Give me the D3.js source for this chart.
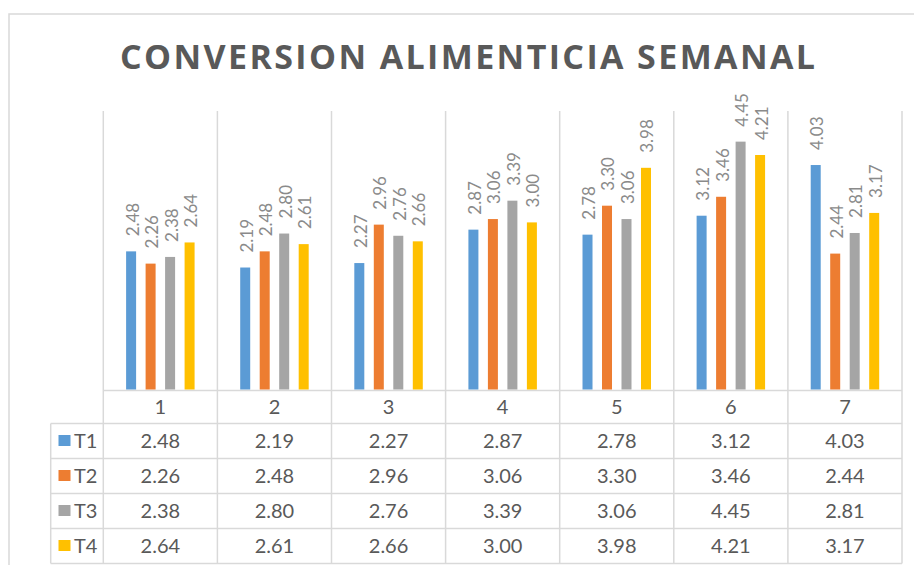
<!DOCTYPE html>
<html><head><meta charset="utf-8">
<script src="https://cdn.jsdelivr.net/npm/d3@7"></script>
<style>html,body{margin:0;padding:0;background:#fff;overflow:hidden}</style>
</head><body>
<script>
const categories = ["1","2","3","4","5","6","7"];
const seriesNames = ["T1","T2","T3","T4"];
const T1 = [2.48,2.19,2.27,2.87,2.78,3.12,4.03];
const T2 = [2.26,2.48,2.96,3.06,3.30,3.46,2.44];
const T3 = [2.38,2.80,2.76,3.39,3.06,4.45,2.81];
const T4 = [2.64,2.61,2.66,3.00,3.98,4.21,3.17];
const colors = ["#5b9bd5","#ed7d31","#a5a5a5","#ffc000"];
const title = "CONVERSION ALIMENTICIA SEMANAL";
const yMax = 5;

const series = [T1,T2,T3,T4].map((v,i)=>({name:seriesNames[i], values:v, color:colors[i]}));

const W=914,H=565;
const svg=d3.select("body").append("svg").attr("width",W).attr("height",H);
const grid="#d9d9d9";

// frame
svg.append("rect").attr("x",9).attr("y",14).attr("width",W).attr("height",H)
  .attr("fill","#fff").attr("stroke",grid).attr("stroke-width",1.5);

// title
svg.append("text").attr("x",467.5).attr("y",69).attr("text-anchor","middle")
  .attr("font-family","'Open Sans'").attr("font-weight",700).attr("font-size",34)
  .attr("fill","#595959").attr("textLength",695).attr("lengthAdjust","spacing").text(title);

const plotTop=111, base=389.5, left=103.3, right=902;
const x=d3.scaleBand().domain(categories).range([left,right]).padding(0);
const xs=d3.scaleBand().domain(seriesNames).range([0,x.bandwidth()]).paddingInner(0.487).paddingOuter(1.17);
const y=d3.scaleLinear().domain([0,yMax]).range([base,plotTop]);

const rowTop=423.5, rowH=35, tableLeft=50.7;
const tableBottom=rowTop+rowH*series.length;

// vertical grid lines (category separators)
const bounds=categories.map(c=>x(c)).concat([right]);
svg.append("g").selectAll("line").data(bounds).join("line")
  .attr("x1",d=>d).attr("x2",d=>d).attr("y1",plotTop).attr("y2",tableBottom)
  .attr("stroke",grid).attr("stroke-width",1.5);
// table left edge
svg.append("line").attr("x1",tableLeft).attr("x2",tableLeft).attr("y1",rowTop).attr("y2",tableBottom)
  .attr("stroke",grid).attr("stroke-width",1.5);
// axis line
svg.append("line").attr("x1",left).attr("x2",right).attr("y1",base+1).attr("y2",base+1)
  .attr("stroke",grid).attr("stroke-width",1.5);
// table row lines
const rowLines=d3.range(series.length+1).map(i=>rowTop+i*rowH);
svg.append("g").selectAll("line").data(rowLines).join("line")
  .attr("x1",tableLeft).attr("x2",right).attr("y1",d=>d).attr("y2",d=>d)
  .attr("stroke",grid).attr("stroke-width",1.5);

// bars
const gS=svg.append("g").selectAll("g").data(series).join("g").attr("fill",d=>d.color);
gS.selectAll("rect").data(s=>s.values.map((v,i)=>({s:s.name,c:categories[i],v})))
  .join("rect")
  .attr("x",d=>x(d.c)+xs(d.s)).attr("width",xs.bandwidth())
  .attr("y",d=>y(d.v)).attr("height",d=>base-y(d.v));

// data labels
const gL=svg.append("g").attr("font-family","Lato").attr("font-weight",400).attr("font-size",17).attr("fill","#8a8a8a");
series.forEach(s=>{
  gL.selectAll(null).data(s.values.map((v,i)=>({s:s.name,c:categories[i],v}))).join("text")
    .attr("transform",d=>`translate(${x(d.c)+xs(d.s)+xs.bandwidth()/2},${y(d.v)-15}) rotate(-90)`)
    .attr("dy","0.44em").attr("text-anchor","start").text(d=>d.v.toFixed(2));
});

// table header
const tf="Lato", tc="#595959", tfs=20;
svg.append("g").selectAll("text").data(categories).join("text")
  .attr("x",d=>x(d)+x.bandwidth()/2).attr("y",(base+rowTop)/2+7)
  .attr("text-anchor","middle").attr("font-family",tf).attr("font-size",tfs).attr("fill",tc).text(d=>d);

// table rows
series.forEach((s,r)=>{
  const cy=rowTop+r*rowH+rowH/2;
  svg.append("rect").attr("x",58.5).attr("y",cy-6).attr("width",12).attr("height",11).attr("fill",s.color);
  svg.append("text").attr("x",74).attr("y",cy+7).attr("font-family",tf).attr("font-size",tfs).attr("fill",tc).text(s.name);
  svg.append("g").selectAll("text").data(s.values).join("text")
    .attr("x",(d,i)=>x(categories[i])+x.bandwidth()/2).attr("y",cy+7)
    .attr("text-anchor","middle").attr("font-family",tf).attr("font-size",tfs).attr("fill",tc)
    .text(d=>d.toFixed(2));
});
</script>
</body></html>
